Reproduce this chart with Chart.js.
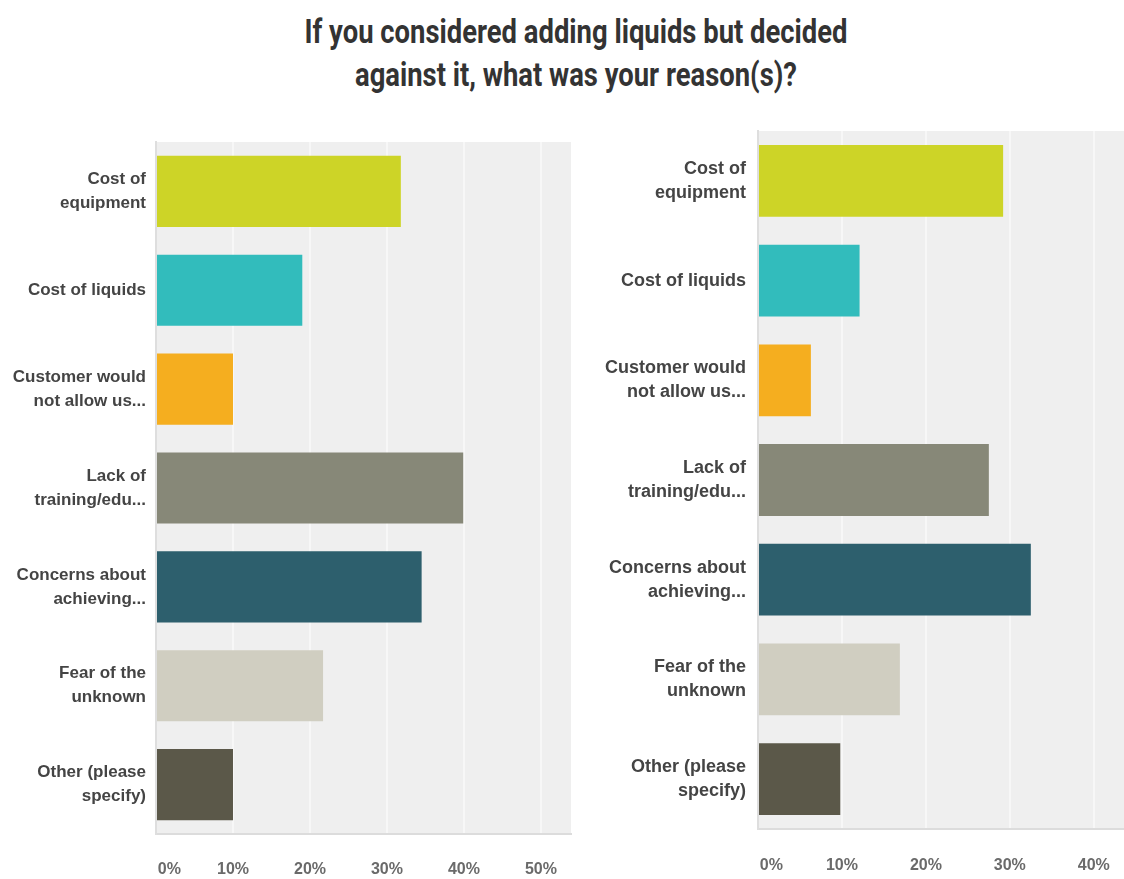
<!DOCTYPE html>
<html>
<head>
<meta charset="utf-8">
<script src="https://cdn.jsdelivr.net/npm/chart.js@4.4.0/dist/chart.umd.min.js"></script>
<style>
  body { margin: 0; background: #fff; width: 1124px; height: 879px; overflow: hidden; position: relative; }
  #title {
    position: absolute; top: 10px; left: 0; width: 1152px;
    text-align: center; font-family: Roboto, "Open Sans", sans-serif; font-weight: bold;
    font-size: 33px; line-height: 43px; color: #333; transform-origin: 576px 50%;
    white-space: nowrap;
  }
  #title span { display: inline-block; }
  .panel { position: absolute; top: 0; }
</style>
</head>
<body>
<div id="title"><span id="line1">If you considered adding liquids but decided</span><br><span>against it, what was your reason(s)?</span></div>
<div class="panel" style="left:0"><canvas id="leftChart" width="580" height="879"></canvas></div>
<div class="panel" style="left:580px"><canvas id="rightChart" width="544" height="879"></canvas></div>
<script>
// categories (wrapped as on the survey chart)
const categories = [
  ['Cost of', 'equipment'],
  ['Cost of liquids'],
  ['Customer would', 'not allow us...'],
  ['Lack of', 'training/edu...'],
  ['Concerns about', 'achieving...'],
  ['Fear of the', 'unknown'],
  ['Other (please', 'specify)']
];

// percent of respondents
const leftValues = [31.8, 19.0, 10.0, 39.9, 34.5, 21.7, 10.0];
const rightValues = [29.2, 12.1, 6.3, 27.5, 32.5, 16.9, 9.8];

const barColors = ['#cdd427', '#32bcbc', '#f5ae1f', '#878878', '#2d5f6d', '#d0cec1', '#5b5849'];

// axis ends as cropped in the picture
const leftMax = 53.9;
const rightMax = 43.6;

// squeeze title to the width seen in the reference
const line1 = document.getElementById('line1');
const titleEl = document.getElementById('title');
titleEl.style.transform = `scaleX(${543 / line1.getBoundingClientRect().width})`;

Chart.defaults.font.family = '"Liberation Sans", Arial, sans-serif';

// grey plot area behind the bars
const plotBackground = {
  id: 'plotBackground',
  beforeDraw: (chart) => {
    const { ctx, chartArea } = chart;
    ctx.save();
    ctx.fillStyle = '#efefef';
    ctx.fillRect(chartArea.left, chartArea.top, chartArea.right - chartArea.left, chartArea.bottom - chartArea.top);
    ctx.restore();
  }
};

function makeConfig(values, max, yWidth, xHeight, pad, labelPad, xPad, labelSize) {
  return {
    type: 'bar',
    data: {
      labels: categories,
      datasets: [{
        data: values,
        backgroundColor: barColors,
        borderWidth: 0,
        barPercentage: 0.72,
        categoryPercentage: 1
      }]
    },
    options: {
      indexAxis: 'y',
      responsive: false,
      animation: false,
      devicePixelRatio: 1,
      layout: { padding: pad },
      plugins: { legend: { display: false }, tooltip: { enabled: false } },
      scales: {
        x: {
          min: 0,
          max: max,
          afterFit: (scale) => {
            scale.height = xHeight;
            scale.paddingLeft = 0;
            scale.paddingRight = 0;
          },
          border: { display: true, color: '#dcdcdc', width: 2 },
          grid: { color: '#f7f7f7', lineWidth: 2, drawTicks: false },
          ticks: {
            stepSize: 10,
            includeBounds: false,
            padding: xPad,
            color: '#6a6a6a',
            font: { size: 16, weight: 'bold' },
            // first label sits right of the axis like the original
            callback: (v) => v === 0 ? '      0%' : v + '%'
          }
        },
        y: {
          afterFit: (scale) => { scale.width = yWidth; },
          border: { display: true, color: '#dedede', width: 2 },
          grid: { display: false, drawTicks: false },
          ticks: {
            padding: labelPad,
            color: '#444',
            font: { size: labelSize, weight: 'bold', lineHeight: '24px' }
          }
        }
      }
    },
    plugins: [plotBackground]
  };
}

const leftChart = new Chart(
  document.getElementById('leftChart'),
  makeConfig(leftValues, leftMax, 156, 45, { top: 142, right: 9, left: 0, bottom: 0 }, 10, 26, 17)
);

const rightChart = new Chart(
  document.getElementById('rightChart'),
  makeConfig(rightValues, rightMax, 178, 50, { top: 131, right: 0, left: 0, bottom: 0 }, 12, 27, 18)
);
</script>
</body>
</html>
